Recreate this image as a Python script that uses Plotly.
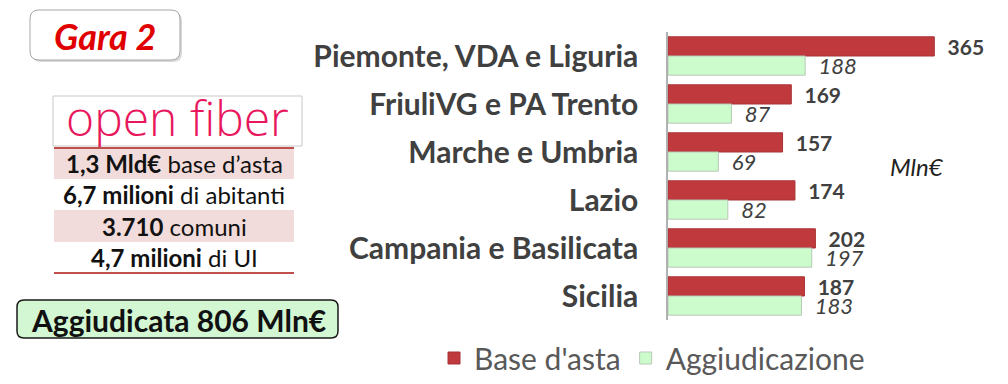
import plotly.graph_objects as go

regions = ["Piemonte, VDA e Liguria", "FriuliVG e PA Trento", "Marche e Umbria",
           "Lazio", "Campania e Basilicata", "Sicilia"]
base_asta = [365, 169, 157, 174, 202, 187]
aggiudicazione = [188, 87, 69, 82, 197, 183]
series_names = ["Base d'asta", "Aggiudicazione"]

info_rows = ["<b>1,3 Mld€</b> base d’asta", "<b>6,7 milioni</b> di abitanti",
             "<b>3.710</b> comuni", "<b>4,7 milioni</b> di UI"]
title_text = "Gara 2"
logo_text = "open fiber"
total_text = "Aggiudicata 806 Mln€"
unit_text = "Mln€"

W, H = 1008, 384
FONT = "Lato"
RED = "#c0393d"
GREEN = "#ccfccc"
GRAY = "#404040"


def px(x):
    return x / W


def py(y):
    return 1 - y / H


def rounded_path(x0, y0, x1, y1, r):
    pts = [
        ("M", x0 + r, y0), ("L", x1 - r, y0), ("Q", x1, y0, x1, y0 + r),
        ("L", x1, y1 - r), ("Q", x1, y1, x1 - r, y1), ("L", x0 + r, y1),
        ("Q", x0, y1, x0, y1 - r), ("L", x0, y0 + r), ("Q", x0, y0, x0 + r, y0),
    ]
    s = ""
    for p in pts:
        if p[0] == "Q":
            s += f"Q{px(p[1]):.5f},{py(p[2]):.5f} {px(p[3]):.5f},{py(p[4]):.5f} "
        else:
            s += f"{p[0]}{px(p[1]):.5f},{py(p[2]):.5f} "
    return s + "Z"


pad = "\u00a0\u00a0"
fig = go.Figure()
fig.add_trace(go.Bar(
    y=regions, x=base_asta, orientation="h", name=series_names[0],
    marker=dict(color=RED, line=dict(color="#a83234", width=1)),
    text=[pad + str(v) for v in base_asta], textposition="outside",
    textfont=dict(family=FONT, size=21, color=GRAY, weight="bold"),
    constraintext="none", cliponaxis=False,
))
fig.add_trace(go.Bar(
    y=regions, x=aggiudicazione, orientation="h", name=series_names[1],
    marker=dict(color=GREEN, line=dict(color="#b8c8b8", width=1)),
    text=[pad + str(v) for v in aggiudicazione], textposition="outside",
    textfont=dict(family=FONT, size=22, color=GRAY, style="italic"),
    constraintext="none", cliponaxis=False,
))

fig.update_layout(
    width=W, height=H, margin=dict(l=0, r=0, t=0, b=0),
    paper_bgcolor="white", plot_bgcolor="white",
    barmode="group", bargap=0.2, bargroupgap=0,
    font=dict(family=FONT, color=GRAY),
    xaxis=dict(domain=[px(668), 1], range=[0, 466], showgrid=False,
               showticklabels=False, zeroline=False, showline=False),
    yaxis=dict(domain=[py(320), py(32)], autorange="reversed", showgrid=False,
               showline=True, linecolor="#b0b0b0", linewidth=1.5,
               ticks="", ticklabelstandoff=22,
               tickfont=dict(family=FONT, size=30, color=GRAY, weight="bold")),
    legend=dict(orientation="h", x=px(652), xanchor="center", y=py(358),
                yanchor="middle", font=dict(family=FONT, size=30, color="#595959"),
                bgcolor="rgba(0,0,0,0)"),
)

shapes = []
# Gara 2 box with shadow
shapes.append(dict(type="path", xref="paper", yref="paper",
                   path=rounded_path(32, 12, 182, 62, 9),
                   fillcolor="#d9d9d9", line=dict(width=0)))
shapes.append(dict(type="path", xref="paper", yref="paper",
                   path=rounded_path(30, 10, 180, 60, 9),
                   fillcolor="white", line=dict(color="#a6a6a6", width=1)))
# logo box
shapes.append(dict(type="rect", xref="paper", yref="paper",
                   x0=px(53), x1=px(302), y0=py(146), y1=py(96),
                   fillcolor="white", line=dict(color="#c8c8c8", width=1)))
# pink rows
for top, bot in [(148, 179), (210, 242)]:
    shapes.append(dict(type="rect", xref="paper", yref="paper",
                       x0=px(54), x1=px(294), y0=py(bot), y1=py(top),
                       fillcolor="#f2dcdb", line=dict(width=0)))
for yy in [148, 273]:
    shapes.append(dict(type="line", xref="paper", yref="paper",
                       x0=px(54), x1=px(294), y0=py(yy), y1=py(yy),
                       line=dict(color="#c0504d", width=2)))
# Aggiudicata box
shapes.append(dict(type="path", xref="paper", yref="paper",
                   path=rounded_path(17, 300, 338, 338, 7),
                   fillcolor="#d3f7d3", line=dict(color="#1a1a1a", width=1.5)))
fig.update_layout(shapes=shapes)

common = dict(xref="paper", yref="paper", showarrow=False,
              xanchor="center", yanchor="middle")
ann = []
ann.append(dict(text=f"<b><i>{title_text}</i></b>", x=px(105), y=py(36),
                font=dict(family=FONT, size=36, color="#e00000"), **common))
ann.append(dict(text=logo_text, x=px(177), y=py(117),
                font=dict(family="Open Sans", size=48, color="#e8175d", weight=300),
                **common))
for txt, yy in zip(info_rows, [163, 194, 226, 257]):
    ann.append(dict(text=txt, x=px(174), y=py(yy),
                    font=dict(family=FONT, size=24, color="#111111"), **common))
ann.append(dict(text=f"<b>{total_text}</b>", x=px(178), y=py(320),
                font=dict(family=FONT, size=30, color="#111111"), **common))
ann.append(dict(text=f"<i>{unit_text}</i>", x=px(917), y=py(166),
                font=dict(family=FONT, size=24, color="#222222"), **common))
fig.update_layout(annotations=ann)

fig.write_html("out.html")
